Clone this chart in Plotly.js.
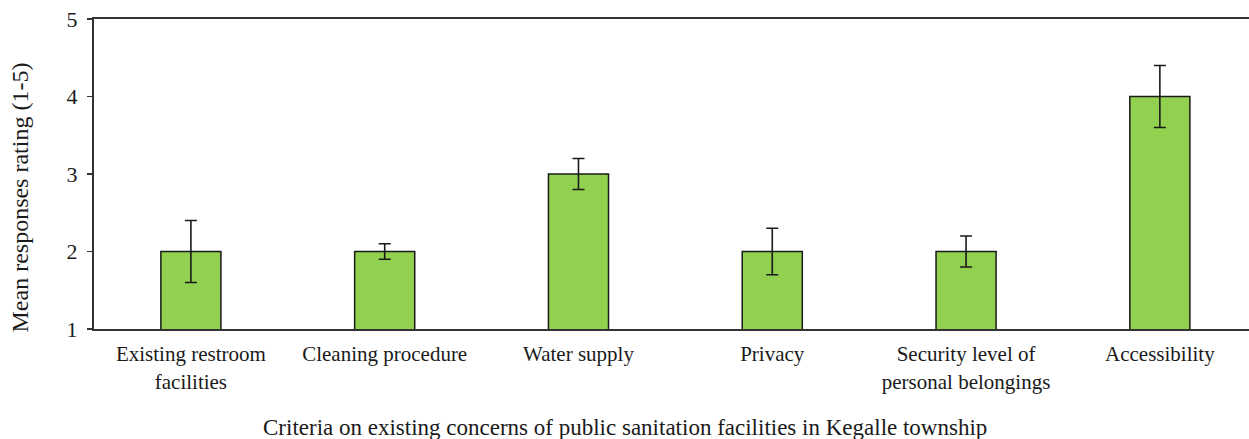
<!DOCTYPE html>
<html>
<head>
<meta charset="utf-8">
<script src="https://cdn.plot.ly/plotly-3.0.1.min.js"></script>
<style>html,body{margin:0;padding:0;background:#fff;}#chart{width:1249px;height:439px;}</style>
</head>
<body>
<div id="chart"></div>
<script>
const categories = [
  "Existing restroom<br>facilities",
  "Cleaning procedure",
  "Water supply",
  "Privacy",
  "Security level of<br>personal belongings",
  "Accessibility"
];
const meanRatings = [2, 2, 3, 2, 2, 4];
const errorValues = [0.4, 0.1, 0.2, 0.3, 0.2, 0.4];
const yTicks = [1, 2, 3, 4, 5];
const xTitle = "Criteria on existing concerns of public sanitation facilities in Kegalle township";
const yTitle = "Mean responses rating (1-5)";

const font = "'Liberation Serif', serif";

const trace = {
  type: "bar",
  x: categories,
  y: meanRatings,
  width: 0.31,
  marker: {color: "#92D050", line: {color: "#1a1a1a", width: 1.5}},
  error_y: {type: "data", array: errorValues, visible: true, color: "#1a1a1a", thickness: 1.6, width: 6},
  hoverinfo: "none"
};

const layout = {
  width: 1249,
  height: 439,
  margin: {l: 94, r: 0, t: 19, b: 110},
  paper_bgcolor: "#ffffff",
  plot_bgcolor: "#ffffff",
  showlegend: false,
  font: {family: font, size: 21, color: "#1a1a1a"},
  xaxis: {
    type: "category",
    range: [-0.5, 5.46],
    showline: true,
    linecolor: "#333333",
    linewidth: 2,
    mirror: true,
    ticks: "",
    ticklabelstandoff: 5,
    tickfont: {family: font, size: 21, color: "#1a1a1a"},
    showgrid: false,
    zeroline: false,
    automargin: false
  },
  yaxis: {
    range: [1, 5],
    tickvals: yTicks,
    ticktext: yTicks.map(String),
    showline: true,
    linecolor: "#333333",
    linewidth: 2,
    ticks: "outside",
    ticklen: 5,
    tickwidth: 1.5,
    tickcolor: "#333333",
    ticklabelstandoff: 5,
    tickfont: {family: font, size: 22, color: "#1a1a1a"},
    showgrid: false,
    zeroline: false,
    automargin: false
  },
  annotations: [
    {
      text: xTitle, xref: "paper", yref: "paper",
      x: (624.5 - 94) / 1155, y: (329 - 427) / 310,
      xanchor: "center", yanchor: "middle", showarrow: false,
      font: {family: font, size: 23, color: "#1a1a1a"}
    },
    {
      text: yTitle, xref: "paper", yref: "paper", textangle: -90,
      x: (19 - 94) / 1155, y: (329 - 197.5) / 310,
      xanchor: "center", yanchor: "middle", showarrow: false,
      font: {family: font, size: 24, color: "#1a1a1a"}
    }
  ]
};

Plotly.newPlot("chart", [trace], layout, {staticPlot: true, displayModeBar: false});
</script>
</body>
</html>
